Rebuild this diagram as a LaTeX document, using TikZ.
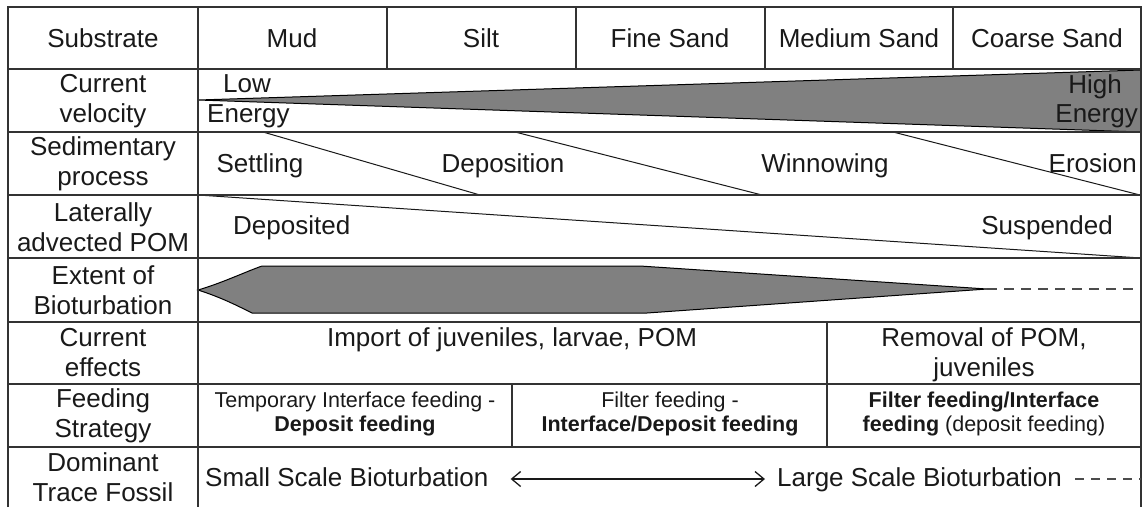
\documentclass[tikz,border=0pt]{standalone}
\usepackage{fontspec}
\setmainfont{Liberation Sans}
\usetikzlibrary{arrows.meta}
\begin{document}
\begin{tikzpicture}[x=1pt,y=-1pt,
  grid/.style={line width=1.3pt, draw=black!80},
  lbl/.style={font=\fontsize{26}{30}\selectfont, align=center, inner sep=0pt, text=black!90},
  rowtext/.style={font=\fontsize{26}{30}\selectfont, inner sep=0pt, text=black!90, text height=19pt, text depth=5pt},
  smalltext/.style={font=\fontsize{21.5}{23}\selectfont, inner sep=0pt, text=black!90},
  shade/.style={fill=black!50, draw=black, line width=1pt},
  slope/.style={line width=1pt, draw=black!90},
  dashline/.style={line width=1.3pt, draw=black!70, dash pattern=on 10pt off 7pt},
  biarrow/.style={line width=1.3pt, draw=black!90, {Straight Barb[length=9pt,width=15pt]}-{Straight Barb[length=9pt,width=15pt]}}]
\useasboundingbox (0,0) rectangle (1147,507);

% current velocity wedge
\draw[shade] (198,100) -- (1141,70) -- (1141,132) -- cycle;

% extent of bioturbation
\draw[shade] (198,290) .. controls (222,283) and (245,272) .. (262,266) -- (640,266)
  -- (987,289) -- (647,313) -- (252,313) .. controls (236,305) and (220,297) .. cycle;
\draw[dashline] (987,289) -- (1141,289);

% sedimentary process dividers
\draw[slope] (263,132) -- (480,195);
\draw[slope] (515,132) -- (762,195);
\draw[slope] (893,132) -- (1140,195);
% laterally advected POM
\draw[slope] (198,195) -- (1141,258);

% table grid
\draw[grid] (8,507) -- (8,7) -- (1141,7) -- (1141,507);
\foreach \y in {69,132,195,258,322,384,447} \draw[grid] (8,\y) -- (1141,\y);
\draw[grid] (198,7) -- (198,507);
\foreach \x in {387,576,765,953} \draw[grid] (\x,7) -- (\x,69);
\draw[grid] (827,322) -- (827,447);
\draw[grid] (512,384) -- (512,447);

% row headings
\node[lbl] (hsub) at (103,38) {Substrate};
\node[lbl] (hvel) at (103,101) {Current\\velocity};
\node[lbl] (hsed) at (103,164) {Sedimentary\\process};
\node[lbl] (hpom) at (103,227) {Laterally\\advected POM};
\node[lbl] (hbio) at (103,290) {Extent of\\Bioturbation};
\node[lbl] (heff) at (103,353) {Current\\effects};
\node[lbl] (hfeed) at (103,416) {Feeding\\Strategy};
\node[lbl] (htrace) at (103,477) {Dominant\\Trace Fossil};

% substrate classes
\node[lbl] (mud) at (292,38) {Mud};
\node[lbl] (silt) at (481,38) {Silt};
\node[lbl] (fine) at (670,38) {Fine Sand};
\node[lbl] (medium) at (859,38) {Medium Sand};
\node[lbl] (coarse) at (1047,38) {Coarse Sand};

% current velocity
\node[rowtext, anchor=base west] (low) at (223,92) {Low};
\node[rowtext, anchor=base west] (lowe) at (207,122) {Energy};
\node[rowtext, anchor=base east] (high) at (1122,93) {High};
\node[rowtext, anchor=base east] (highe) at (1138,122) {Energy};

% sedimentary process
\node[rowtext, anchor=base] (settling) at (260,172) {Settling};
\node[rowtext, anchor=base] (deposition) at (503,172) {Deposition};
\node[rowtext, anchor=base] (winnowing) at (825,172) {Winnowing};
\node[rowtext, anchor=base east] (erosion) at (1137,172) {Erosion};

% laterally advected POM
\node[rowtext, anchor=base west] (deposited) at (233,234) {Deposited};
\node[rowtext, anchor=base east] (suspended) at (1113,234) {Suspended};

% current effects
\node[rowtext, anchor=base] (import) at (512,346) {Import of juveniles, larvae, POM};
\node[rowtext, anchor=base] (removal) at (984,346) {Removal of POM,};
\node[rowtext, anchor=base] (removalb) at (984,376) {juveniles};

% feeding strategy
\node[smalltext, anchor=base] (fa1) at (355,407) {Temporary Interface feeding -};
\node[smalltext, anchor=base] (fa2) at (355,431) {\bfseries Deposit feeding};
\node[smalltext, anchor=base] (fb1) at (670,407) {Filter feeding -};
\node[smalltext, anchor=base] (fb2) at (670,431) {\bfseries Interface/Deposit feeding};
\node[smalltext, anchor=base] (fc1) at (984,407) {\bfseries Filter feeding/Interface};
\node[smalltext, anchor=base] (fc2) at (984,431) {\textbf{feeding} (deposit feeding)};

% dominant trace fossil
\node[rowtext, anchor=base west] (smallsc) at (205,486) {Small Scale Bioturbation};
\node[rowtext, anchor=base west] (largesc) at (777,486) {Large Scale Bioturbation};
\coordinate (rowend) at (1141,479);
\draw[biarrow] ([xshift=22pt]smallsc.east) -- ([xshift=-12pt]largesc.west);
\draw[dashline, dash pattern=on 9pt off 7pt] ([xshift=13pt]largesc.east) -- (largesc.east -| rowend);
\end{tikzpicture}
\end{document}
